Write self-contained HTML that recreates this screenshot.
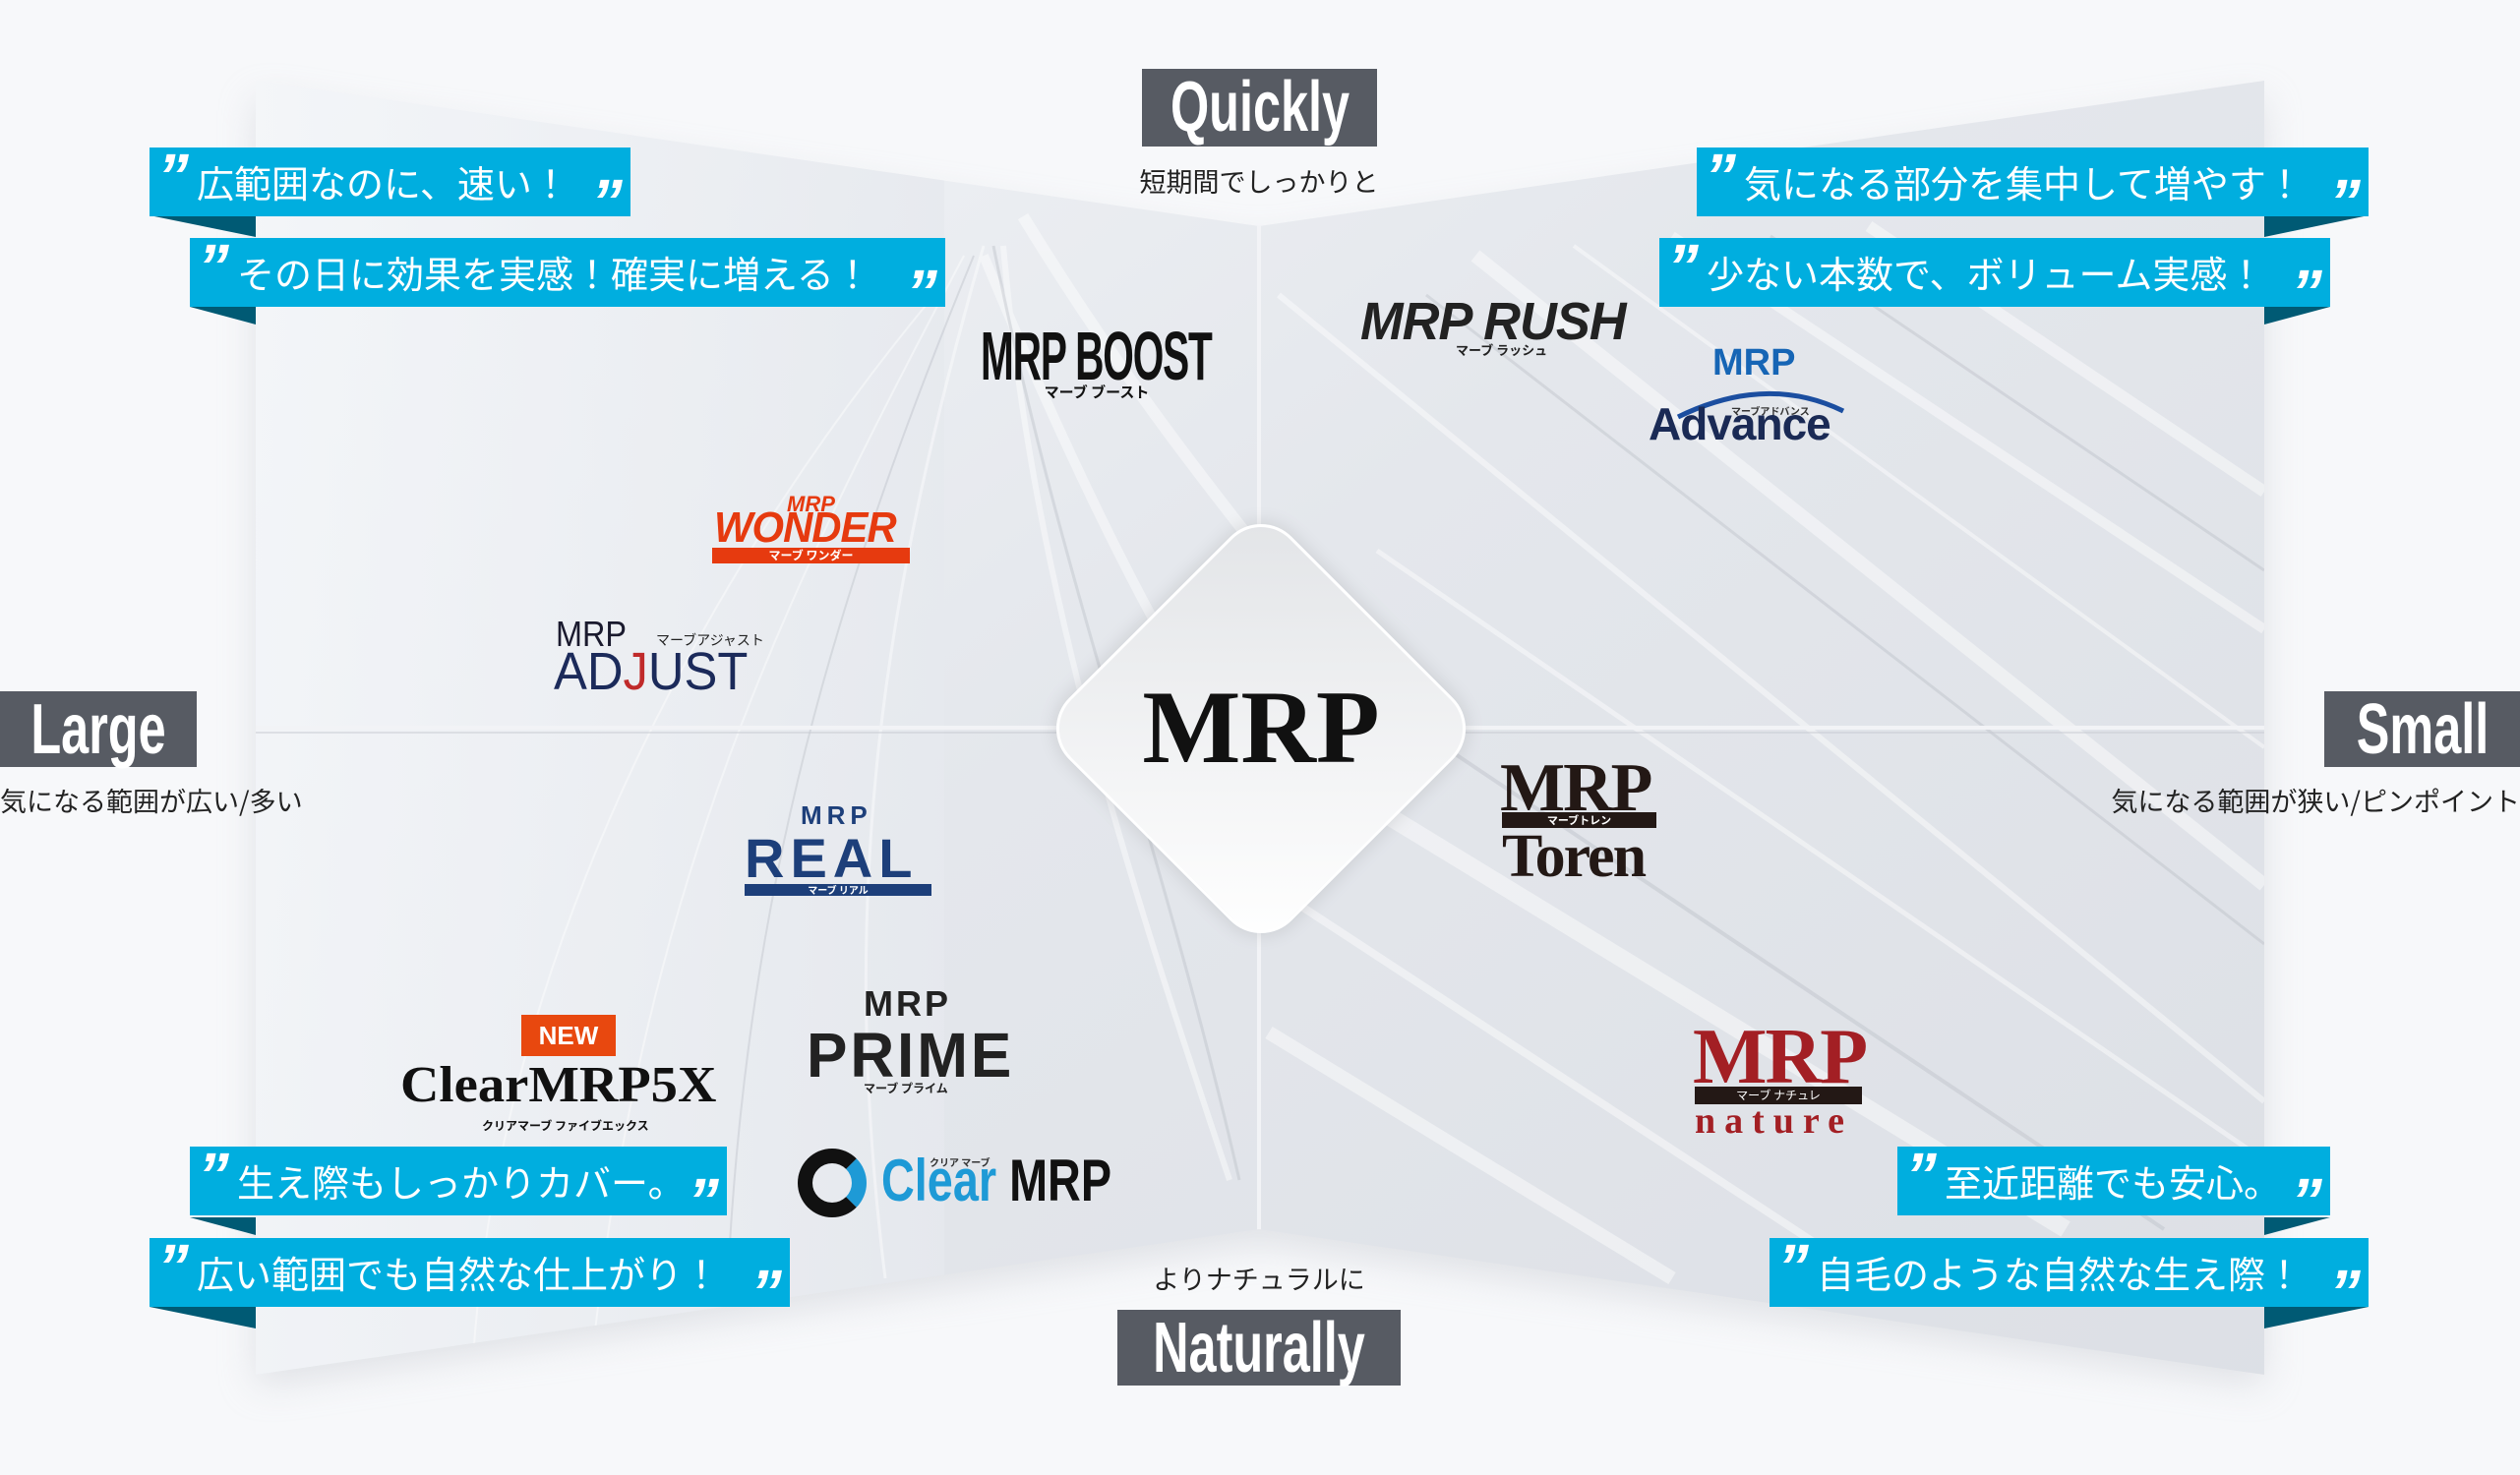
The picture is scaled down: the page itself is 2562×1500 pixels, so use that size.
<!DOCTYPE html>
<html><head><meta charset="utf-8">
<style>
*{margin:0;padding:0;box-sizing:border-box}
body{width:2562px;height:1500px;background:#f7f8fa;position:relative;overflow:hidden;font-family:"Liberation Sans","Noto Sans CJK JP",sans-serif}
.a{position:absolute;white-space:nowrap}
.hd{background:#575b63;color:#fff;font-family:"Liberation Sans",sans-serif;font-weight:bold;font-size:72px;line-height:78px}
.hd span{position:absolute;left:50%;top:0;transform:translateX(-50%) scaleX(0.7)}
.sub{font-size:27px;color:#222;font-family:"Noto Sans CJK JP",sans-serif}
.rib{background:#00aedf;color:#fff;font-family:"Noto Sans CJK JP",sans-serif;font-size:38px;height:70px;line-height:70px;padding-left:48px}
.rib:before{content:"\201D";position:absolute;left:8px;top:-8px;font:italic bold 64px "Liberation Sans",sans-serif}
.rib:after{content:"\201D";position:absolute;right:8px;top:18px;font:italic bold 64px "Liberation Sans",sans-serif}
.tail{position:absolute;width:0;height:0}
.k{font-family:"Noto Sans CJK JP",sans-serif;font-weight:bold}
</style></head><body>
<svg class="a" style="left:0;top:0" width="2562" height="1500">
<defs>
<linearGradient id="pg" x1="0" y1="0" x2="1" y2="1">
<stop offset="0" stop-color="#f3f5f8"/><stop offset="0.45" stop-color="#e4e7ec"/><stop offset="1" stop-color="#dcdfe5"/></linearGradient>
<linearGradient id="lg" x1="0" y1="0" x2="1" y2="0">
<stop offset="0" stop-color="#f4f6f9"/><stop offset="1" stop-color="#e6e9ee"/></linearGradient>
<filter id="sh" x="-10%" y="-10%" width="120%" height="120%"><feGaussianBlur stdDeviation="18"/></filter>
<clipPath id="cp"><path d="M260 82 L1280 230 L2302 82 L2302 1398 L1280 1250 L260 1398 Z"/></clipPath>
</defs>
<path d="M260 100 L1280 250 L2302 100 L2302 1410 L1280 1265 L260 1410 Z" fill="#c9ccd3" opacity="0.5" filter="url(#sh)"/>
<g clip-path="url(#cp)">
<rect x="260" y="0" width="2042" height="1500" fill="url(#pg)"/>
<rect x="260" y="0" width="700" height="1500" fill="url(#lg)" opacity="0.8"/>
<g stroke="#fff" fill="none" opacity="0.45">
<path d="M1500 260 L2302 900" stroke-width="14"/><path d="M1300 300 L2302 1120" stroke-width="6"/>
<path d="M1600 250 L2302 760" stroke-width="4"/><path d="M1330 780 L2100 1250" stroke-width="18"/>
<path d="M1290 900 L1900 1300" stroke-width="8"/><path d="M1700 240 L2302 640" stroke-width="10"/>
<path d="M1400 560 L2302 1180" stroke-width="5"/><path d="M1900 230 L2302 500" stroke-width="12"/>
<path d="M1290 1050 L1700 1300" stroke-width="14"/>
<path d="M1000 250 C900 600 850 900 900 1300" stroke-width="3"/><path d="M1020 250 C1050 600 1150 900 1250 1200" stroke-width="6"/>
<path d="M980 260 C800 600 650 900 600 1400" stroke-width="2"/><path d="M1000 260 C1100 500 1200 700 1280 800" stroke-width="10"/>
<path d="M1040 220 C1150 400 1250 520 1280 560" stroke-width="12"/><path d="M950 300 C700 600 500 1000 480 1400" stroke-width="2"/>
</g>
<g stroke="#b9bdc5" fill="none" opacity="0.4">
<path d="M1450 300 L2302 960" stroke-width="3"/><path d="M1350 680 L2200 1250" stroke-width="4"/>
<path d="M1800 240 L2302 580" stroke-width="3"/><path d="M1010 250 C1080 600 1180 850 1260 1200" stroke-width="3"/>
<path d="M990 260 C850 600 760 900 740 1300" stroke-width="2"/>
</g>
<line x1="1280" y1="0" x2="1280" y2="1500" stroke="#f2f3f6" stroke-width="4"/>
<line x1="260" y1="740" x2="2302" y2="740" stroke="#f2f3f6" stroke-width="4"/>
<line x1="260" y1="745" x2="2302" y2="745" stroke="#c9ccd3" stroke-width="2" opacity="0.5"/>
</g>
</svg>

<div class="a" style="left:1122px;top:581px;width:320px;height:320px;transform:rotate(45deg);border-radius:44px;background:linear-gradient(135deg,#e2e4e7,#ffffff);border:3px solid #fff;box-shadow:0 0 20px rgba(0,0,0,0.12)"></div>
<div class="a" style="left:1082px;top:680px;width:400px;text-align:center;font:bold 106px 'Liberation Serif',serif;color:#111;line-height:120px">MRP</div>

<div class="a hd" style="left:1161px;top:70px;width:239px;height:79px"><span>Quickly</span></div>
<div class="a sub" style="left:1080px;top:164px;width:400px;text-align:center">短期間でしっかりと</div>
<div class="a hd" style="left:0;top:703px;width:200px;height:77px"><span>Large</span></div>
<div class="a sub" style="left:0;top:794px">気になる範囲が広い/多い</div>
<div class="a hd" style="left:2363px;top:703px;width:199px;height:77px"><span>Small</span></div>
<div class="a sub" style="right:0;top:794px">気になる範囲が狭い/ピンポイント</div>
<div class="a sub" style="left:1080px;top:1280px;width:400px;text-align:center">よりナチュラルに</div>
<div class="a hd" style="left:1136px;top:1332px;width:288px;height:77px"><span>Naturally</span></div>

<div class="tail" style="left:152px;top:219px;border-top:22px solid #005a74;border-left:108px solid transparent"></div>
<div class="a rib" style="left:152px;top:150px;width:489px">広範囲なのに、速い！</div>
<div class="tail" style="left:193px;top:312px;border-top:18px solid #005a74;border-left:67px solid transparent"></div>
<div class="a rib" style="left:193px;top:242px;width:768px">その日に効果を実感！確実に増える！</div>
<div class="tail" style="left:2302px;top:219px;border-top:22px solid #005a74;border-right:106px solid transparent"></div>
<div class="a rib" style="left:1725px;top:150px;width:683px">気になる部分を集中して増やす！</div>
<div class="tail" style="left:2302px;top:312px;border-top:18px solid #005a74;border-right:67px solid transparent"></div>
<div class="a rib" style="left:1687px;top:242px;width:682px">少ない本数で、ボリューム実感！</div>
<div class="tail" style="left:193px;top:1238px;border-top:18px solid #005a74;border-left:67px solid transparent"></div>
<div class="a rib" style="left:193px;top:1166px;width:546px">生え際もしっかりカバー。</div>
<div class="tail" style="left:152px;top:1329px;border-top:22px solid #005a74;border-left:108px solid transparent"></div>
<div class="a rib" style="left:152px;top:1259px;width:651px">広い範囲でも自然な仕上がり！</div>
<div class="tail" style="left:2302px;top:1238px;border-top:18px solid #005a74;border-right:67px solid transparent"></div>
<div class="a rib" style="left:1929px;top:1166px;width:440px">至近距離でも安心。</div>
<div class="tail" style="left:2302px;top:1329px;border-top:22px solid #005a74;border-right:106px solid transparent"></div>
<div class="a rib" style="left:1799px;top:1259px;width:609px">自毛のような自然な生え際！</div>

<div class="a" style="left:997px;top:322px;font:bold 70px 'Liberation Sans',sans-serif;color:#111;letter-spacing:-2px;transform:scaleX(0.58);transform-origin:0 0">MRP BOOST</div>
<div class="a k" style="left:995px;top:388px;width:240px;text-align:center;font-size:15px;color:#111">マーブ ブースト</div>

<div class="a" style="left:1383px;top:296px;font:italic 900 54px 'Liberation Sans',sans-serif;color:#222;letter-spacing:-1px;transform:scaleX(0.97);transform-origin:0 0">MRP RUSH</div>
<div class="a k" style="left:1480px;top:346px;font-size:13px;color:#222">マーブ ラッシュ</div>

<div class="a" style="left:1741px;top:348px;font:bold 38px 'Liberation Sans',sans-serif;color:#1665b5">MRP</div>
<svg class="a" style="left:1676px;top:388px" width="210" height="40"><path d="M30 36 Q120 -8 198 30" stroke="#1b4ea0" stroke-width="5" fill="none"/></svg>
<div class="a k" style="left:1760px;top:410px;font-size:10px;color:#333">マーブアドバンス</div>
<div class="a" style="left:1676px;top:404px;font:bold 46px 'Liberation Sans',sans-serif;color:#1a2a55;letter-spacing:-1px">Advance</div>

<div class="a" style="left:800px;top:500px;font:italic bold 22px 'Liberation Sans',sans-serif;color:#e63a0f">MRP</div>
<div class="a" style="left:726px;top:512px;font:italic bold 44px 'Liberation Sans',sans-serif;color:#e63a0f;letter-spacing:-1px;transform:scaleX(0.95);transform-origin:0 0">WONDER</div>
<div class="a k" style="left:724px;top:557px;width:201px;height:16px;background:#e63a0f;color:#fff;font-size:12px;line-height:16px;text-align:center">マーブ ワンダー</div>

<div class="a" style="left:565px;top:624px;font:36px 'Liberation Sans',sans-serif;color:#1a1a2e;transform:scaleX(0.9);transform-origin:0 0">MRP</div>
<div class="a k" style="left:667px;top:641px;font-size:14px;color:#222;font-weight:normal">マーブアジャスト</div>
<div class="a" style="left:563px;top:652px;font:54px 'Liberation Sans',sans-serif;color:#1b2a5a;transform:scaleX(0.94);transform-origin:0 0">AD<span style="color:#c02a2a">J</span>UST</div>

<div class="a" style="left:814px;top:814px;font:bold 26px 'Liberation Sans',sans-serif;color:#1d3f7a;letter-spacing:5px">MRP</div>
<div class="a" style="left:757px;top:840px;font:900 56px 'Liberation Sans',sans-serif;color:#1d3f7a;letter-spacing:6px">REAL</div>
<div class="a k" style="left:757px;top:899px;width:190px;height:12px;background:#1d3f7a;color:#fff;font-size:10px;line-height:12px;text-align:center">マーブ リアル</div>

<div class="a" style="left:1525px;top:762px;font:bold 70px 'Liberation Serif',serif;color:#231815;letter-spacing:-2px">MRP</div>
<div class="a k" style="left:1527px;top:826px;width:157px;height:16px;background:#231815;color:#fff;font-size:11px;line-height:16px;text-align:center">マーブトレン</div>
<div class="a" style="left:1527px;top:836px;font:bold 62px 'Liberation Serif',serif;color:#231815;letter-spacing:-2px">Toren</div>

<div class="a" style="left:878px;top:1000px;font:bold 36px 'Liberation Sans',sans-serif;color:#222;letter-spacing:3px">MRP</div>
<div class="a" style="left:820px;top:1036px;font:bold 64px 'Liberation Sans',sans-serif;color:#222;letter-spacing:3px;transform:scaleX(0.97);transform-origin:0 0">PRIME</div>
<div class="a k" style="left:878px;top:1098px;font-size:12px;color:#222">マーブ プライム</div>

<div class="a" style="left:530px;top:1032px;width:96px;height:42px;background:#e8480f;color:#fff;font:bold 26px 'Liberation Sans',sans-serif;text-align:center;line-height:42px">NEW</div>
<div class="a" style="left:407px;top:1074px;font:bold 52px 'Liberation Serif',serif;color:#111;transform:scaleX(1.05);transform-origin:0 0">ClearMRP5X</div>
<div class="a k" style="left:490px;top:1136px;font-size:12px;color:#111">クリアマーブ ファイブエックス</div>

<div class="a" style="left:811px;top:1168px;width:70px;height:70px;border-radius:50%;border:15px solid #111;border-right-color:#1e9ad6"></div>
<div class="a k" style="left:945px;top:1174px;font-size:10px;color:#333">クリア マーブ</div>
<div class="a" style="left:896px;top:1166px;font:bold 60px 'Liberation Sans',sans-serif;color:#1e9ad6;transform:scaleX(0.78);transform-origin:0 0">Clear<span style="color:#111"> MRP</span></div>

<div class="a" style="left:1721px;top:1030px;font:bold 80px 'Liberation Serif',serif;color:#a31f24;letter-spacing:-2px">MRP</div>
<div class="a k" style="left:1723px;top:1105px;width:170px;height:18px;background:#231815;color:#fff;font-size:12px;line-height:18px;text-align:center;font-weight:normal">マーブ ナチュレ</div>
<div class="a" style="left:1723px;top:1118px;font:bold 38px 'Liberation Serif',serif;color:#a31f24;letter-spacing:9px">nature</div>
</body></html>
